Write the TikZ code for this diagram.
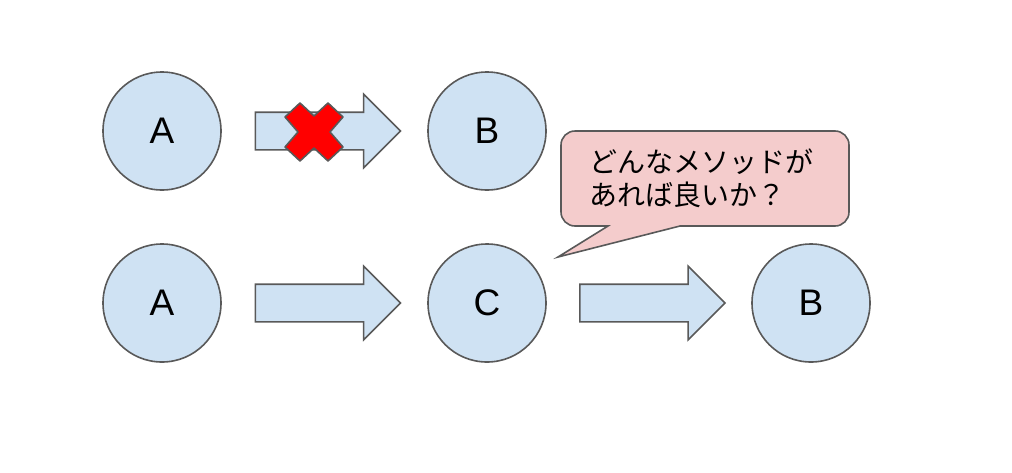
\documentclass[tikz,border=0pt]{standalone}
\usepackage{fontspec}
\setmainfont{Liberation Sans}
\newfontfamily\cjk{Noto Sans CJK JP}
\usetikzlibrary{shapes.arrows}

\definecolor{nodeblue}{HTML}{CFE2F3}
\definecolor{edgegray}{HTML}{595959}
\definecolor{notepink}{HTML}{F4CCCC}

\tikzset{
  ball/.style={circle, draw=edgegray, fill=nodeblue, line width=1.6pt,
    minimum size=118pt, inner sep=0pt, font=\fontsize{37}{44}\selectfont},
  blockarrow/.style={single arrow, draw=edgegray, fill=nodeblue, line width=1.6pt,
    minimum height=145pt, minimum width=72pt, single arrow head extend=18pt,
    inner xsep=0pt, inner ysep=18pt},
  bubble/.style={draw=edgegray, fill=notepink, line width=1.6pt},
  nogo/.style={draw=edgegray, fill=red, line width=1.6pt, line join=round},
}

\begin{document}
\begin{tikzpicture}[x=1pt, y=-1pt]

  %% ════ 上段：A から B へ直接は行けない ════
  \node[ball] (a1) at (162,131) {A};
  \node[ball] (b1) at (487,131) {B};
  \node[blockarrow] (ar1) at (318.5,131) {};

  % バツ印
  \draw[nogo, shift={(314,132)}] (-14,-29) -- (0,-16) -- (14,-29) -- (29,-15)
    -- (16,0) -- (29,15) -- (14,29) -- (0,16) -- (-14,29) -- (-29,15)
    -- (-16,0) -- (-29,-15) -- cycle;

  %% ════ 下段：A → C → B ════
  \node[ball] (a2) at (162,303) {A};
  \node[ball] (c2) at (487,303) {C};
  \node[ball] (b2) at (811,303) {B};
  \node[blockarrow] (ar2) at (318.5,303) {};
  \node[blockarrow] (ar3) at (643,303) {};

  %% ════ 吹き出し ════
  \draw[bubble] (575,131) -- (835,131) arc[start angle=-90, end angle=0, radius=14]
    -- (849,212) arc[start angle=0, end angle=90, radius=14]
    -- (680,226) -- (558,257) -- (608,226)
    -- (575,226) arc[start angle=90, end angle=180, radius=14]
    -- (561,145) arc[start angle=180, end angle=270, radius=14] -- cycle;
  \node[align=left, inner sep=0pt, font=\cjk\fontsize{28}{33}\selectfont]
    (note) at (701,178) {どんなメソッドが\\あれば良いか？};

  \pgfresetboundingbox
  \path[use as bounding box] (0,0) rectangle (1012,472);
\end{tikzpicture}
\end{document}
